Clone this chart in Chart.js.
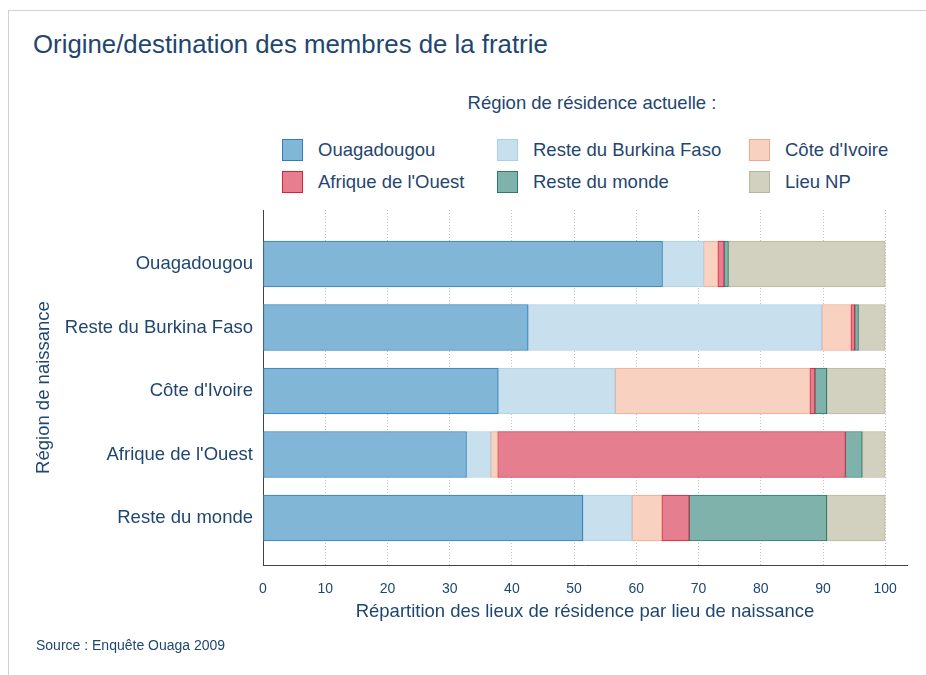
<!DOCTYPE html>
<html>
<head>
<meta charset="utf-8">
<script src="https://cdn.jsdelivr.net/npm/chart.js@4/dist/chart.umd.min.js"></script>
<style>
  html, body { margin: 0; padding: 0; background: #fff; }
  body { width: 926px; height: 675px; position: relative; overflow: hidden;
         font-family: "Liberation Sans", Arial, sans-serif; color: #1f4670; }
  #frame { position: absolute; left: 8px; top: 10px; right: -2px; bottom: -2px;
           border-top: 1px solid #d0d0d0; border-left: 1px solid #d0d0d0; }
  #title { position: absolute; left: 33px; top: 30px; font-size: 25.8px; white-space: nowrap; }
  #legendTitle { position: absolute; left: 0; width: 1184px; top: 92px; text-align: center;
                 font-size: 18.5px; white-space: nowrap; }
  .item { position: absolute; font-size: 18.5px; white-space: nowrap; line-height: 22px; }
  .box { position: absolute; width: 19px; height: 20px; border: 1px solid; }
  #source { position: absolute; left: 36px; top: 637px; font-size: 14px; white-space: nowrap; }
  #wrap { position: absolute; left: 0; top: 0; width: 926px; height: 675px; }
</style>
</head>
<body>
<div id="frame"></div>
<div id="title">Origine/destination des membres de la fratrie</div>
<div id="legendTitle">Région de résidence actuelle :</div>
<div id="legend"></div>
<div id="wrap"><canvas id="chart" width="926" height="675"></canvas></div>
<div id="source">Source : Enquête Ouaga 2009</div>
<script>
// région de naissance (lignes)
const regions = ["Ouagadougou", "Reste du Burkina Faso", "Côte d'Ivoire", "Afrique de l'Ouest", "Reste du monde"];

// région de résidence actuelle (séries), en %
const seriesNames = ["Ouagadougou", "Reste du Burkina Faso", "Côte d'Ivoire", "Afrique de l'Ouest", "Reste du monde", "Lieu NP"];
const ouaga      = [64.2, 42.6, 37.8, 32.7, 51.4];
const resteBF    = [6.6, 47.2, 18.8, 3.9, 7.9];
const coteIvoire = [2.3, 4.7, 31.3, 1.1, 4.8];
const afrique    = [1.0, 0.6, 0.8, 55.9, 4.4];
const resteMonde = [0.7, 0.6, 1.9, 2.7, 22.1];
const lieuNP     = [25.2, 4.3, 9.4, 3.7, 9.4];

const xTicks = [0, 10, 20, 30, 40, 50, 60, 70, 80, 90, 100];

const fills   = ["#82b6d7", "#c8e0ee", "#f8d1c1", "#e57f8f", "#80b2ac", "#d2d1bf"];
const borders = ["#2e7fbd", "#a9d0e6", "#f2a88e", "#d8223c", "#2b7a6b", "#b8b69a"];
const txt = "#1f4670";

const allValues = [ouaga, resteBF, coteIvoire, afrique, resteMonde, lieuNP];

// legende HTML en 3 colonnes
const legendCols = [282, 497, 749];
const legendRows = [139, 171];
const legend = document.getElementById("legend");
seriesNames.forEach((name, i) => {
    const col = i % 3, row = Math.floor(i / 3);
    const box = document.createElement("div");
    box.className = "box";
    box.style.left = legendCols[col] + "px";
    box.style.top = legendRows[row] + "px";
    box.style.background = fills[i];
    box.style.borderColor = borders[i];
    legend.appendChild(box);
    const label = document.createElement("div");
    label.className = "item";
    label.style.left = (legendCols[col] + 36) + "px";
    label.style.top = legendRows[row] + "px";
    label.textContent = name;
    legend.appendChild(label);
});

const datasets = seriesNames.map((name, i) => ({
    label: name,
    data: allValues[i].map((v, r) => ({ x: v, y: r })),
    backgroundColor: fills[i],
    borderColor: borders[i],
    borderWidth: 1,
    borderSkipped: false,
    barThickness: 46
}));

const ctx = document.getElementById("chart").getContext("2d");
new Chart(ctx, {
    type: "bar",
    data: { datasets: datasets },
    options: {
        indexAxis: "y",
        responsive: false,
        animation: false,
        devicePixelRatio: 1,
        layout: { padding: { top: 210, right: 19, left: 0, bottom: 0 } },
        plugins: {
            legend: { display: false },
            tooltip: { enabled: false }
        },
        scales: {
            x: {
                type: "linear",
                stacked: true,
                min: 0,
                max: 103.5,
                afterBuildTicks: axis => { axis.ticks = xTicks.map(v => ({ value: v })); },
                afterFit: axis => { axis.height = 110; },
                ticks: { color: txt, font: { size: 14, family: "Liberation Sans" }, padding: 16, maxRotation: 0 },
                grid: { color: "#c4c4c4", drawTicks: false },
                border: { display: true, color: "#444", width: 1, dash: [1, 2] },
                title: {
                    display: true,
                    text: "Répartition des lieux de résidence par lieu de naissance",
                    color: txt,
                    font: { size: 18.5, family: "Liberation Sans" },
                    padding: { top: 0, bottom: 52 }
                }
            },
            y: {
                type: "linear",
                stacked: true,
                reverse: true,
                offset: false,
                min: -0.85,
                max: 4.74,
                afterBuildTicks: axis => { axis.ticks = regions.map((r, i) => ({ value: i })); },
                afterFit: axis => { axis.width = 263; },
                ticks: {
                    color: txt,
                    font: { size: 18.5, family: "Liberation Sans" },
                    padding: 10,
                    autoSkip: false,
                    callback: v => regions[v]
                },
                grid: { display: false, drawTicks: false },
                border: { display: true, color: "#444", width: 1 },
                title: {
                    display: true,
                    text: "Région de naissance",
                    color: txt,
                    font: { size: 18.5, family: "Liberation Sans" },
                    padding: { top: 33, bottom: 0 }
                }
            }
        }
    }
});
</script>
</body>
</html>
